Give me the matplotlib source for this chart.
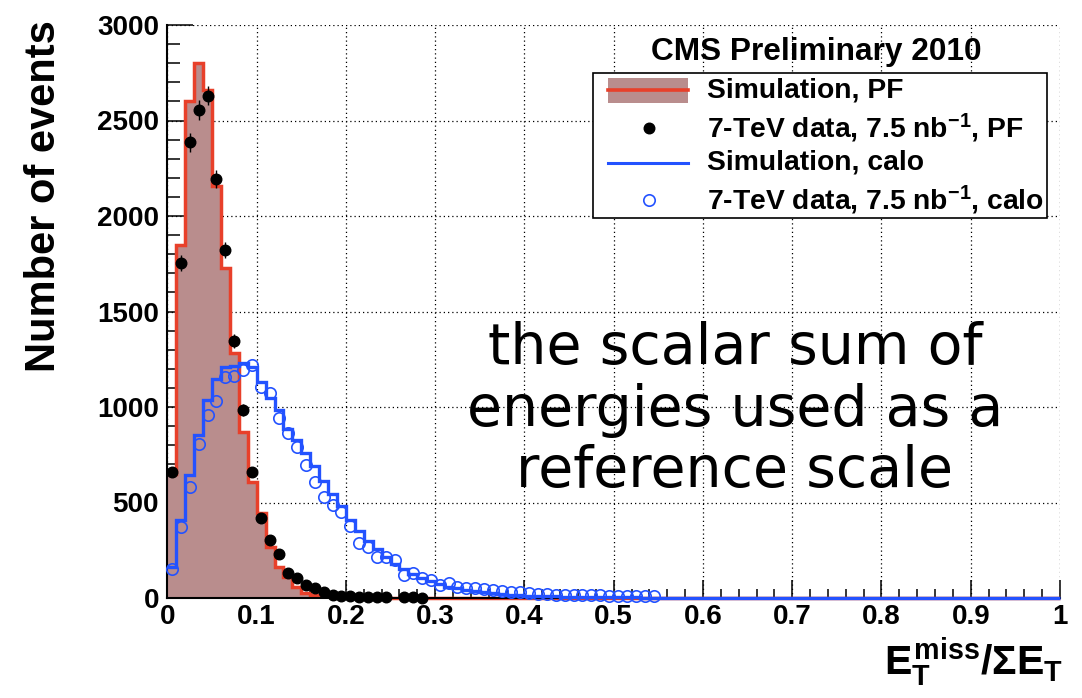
import numpy as np
import matplotlib
matplotlib.use("Agg")
import matplotlib.pyplot as plt
from matplotlib.patches import Rectangle
from matplotlib.lines import Line2D
from matplotlib.ticker import MultipleLocator

plt.rcParams['font.family'] = ['Liberation Sans', 'DejaVu Sans']
plt.rcParams['font.weight'] = 'bold'
plt.rcParams['mathtext.fontset'] = 'custom'
plt.rcParams['mathtext.rm'] = 'Liberation Sans:bold'
plt.rcParams['mathtext.it'] = 'Liberation Sans:bold'
plt.rcParams['mathtext.bf'] = 'Liberation Sans:bold'

# ---- binning: 100 bins of width 0.01 on [0, 1]
BIN_WIDTH = 0.01
N_BINS = 100
edges = np.arange(N_BINS + 1) * BIN_WIDTH
centers = edges[:-1] + BIN_WIDTH / 2

# ---- simulation, particle flow (bin contents from the first bin on)
sim_pf_counts = [650, 1848, 2602, 2803, 2660, 2159, 1726, 1281, 871, 609,
                 443, 269, 164, 112, 59, 26, 18, 12, 8, 6,
                 5, 4, 3, 3, 2, 2, 2, 1, 1, 1, 1, 1, 1]

# ---- 7 TeV data, particle flow (nan = empty bin)
data_pf_counts = [661, 1752, 2386, 2555, 2630, 2192, 1822, 1347, 984, 658,
                  420, 304, 229, 129, 103, 68, 51, 33, 16, 10,
                  8, 6, 6, 5, 5, np.nan, 3, 3, 2]

# ---- simulation, calorimeter
sim_calo_counts = [160, 408, 644, 853, 1037, 1147, 1211, 1215, 1229, 1210,
                   1133, 1046, 984, 883, 827, 760, 690, 615, 545, 480,
                   410, 350, 300, 255, 215, 180, 150, 125, 105, 88,
                   72, 60, 50, 42, 35, 29, 24, 20, 17, 14,
                   12, 10, 9, 8, 7, 6, 5, 5, 4, 4,
                   3, 3, 3, 2, 2, 2, 1, 1, 1, 1]

# ---- 7 TeV data, calorimeter
data_calo_counts = [152, 370, 583, 806, 958, 1033, 1159, 1162, 1194, 1220,
                    1106, 1072, 941, 862, 792, 696, 609, 530, 487, 448,
                    378, 286, 269, 216, 216, 199, 120, 129, 103, 94,
                    70, 77, 59, 50, 51, 48, 42, 38, 33, 29,
                    26, 22, 20, 18, 17, 16, 15, 14, 14, 13,
                    12, 12, 11, 11, 10]

x_ticks = [0, 0.1, 0.2, 0.3, 0.4, 0.5, 0.6, 0.7, 0.8, 0.9, 1]
x_tick_labels = ['0', '0.1', '0.2', '0.3', '0.4', '0.5', '0.6', '0.7', '0.8', '0.9', '1']
y_ticks = [0, 500, 1000, 1500, 2000, 2500, 3000]
y_tick_labels = ['0', '500', '1000', '1500', '2000', '2500', '3000']


def full(counts):
    out = np.zeros(N_BINS)
    out[:len(counts)] = counts
    return out


sim_pf = full(sim_pf_counts)
sim_calo = full(sim_calo_counts)
data_pf = np.array(data_pf_counts, dtype=float)
data_calo = np.array(data_calo_counts, dtype=float)

FILL = '#B98D8D'
RED = '#E8402A'
BLUE = '#2352FF'

W, H = 1082, 698
fig = plt.figure(figsize=(W / 100, H / 100), dpi=100)
ax = fig.add_axes([167.4 / W, 1 - 598 / H, 892.6 / W, 573 / H])


def fp(x, y):
    """pixel position (from top-left) -> figure fraction"""
    return x / W, 1 - y / H


# histograms
ax.stairs(sim_pf, edges, fill=True, color=FILL, zorder=2)
ax.stairs(sim_pf, edges, baseline=None, color=RED, linewidth=2.5, zorder=3,
          clip_on=False)
ax.stairs(sim_calo, edges, baseline=None, color=BLUE, linewidth=2.4, zorder=4,
          clip_on=False)

# data points
xc = centers[:len(data_calo)]
ax.plot(xc, data_calo, 'o', ms=8.2, mfc='none', mec=BLUE, mew=1.2, zorder=5,
        clip_on=False)
xp = centers[:len(data_pf)]
ax.errorbar(xp, data_pf, yerr=np.sqrt(np.nan_to_num(data_pf)), fmt='o',
            color='black', ms=7.6, elinewidth=1.0, capsize=0, zorder=6,
            clip_on=False)

ax.set_xlim(0, 1)
ax.set_ylim(0, 3000)
ax.set_xticks(x_ticks)
ax.set_xticklabels(x_tick_labels)
ax.set_yticks(y_ticks)
ax.set_yticklabels(y_tick_labels)
ax.xaxis.set_minor_locator(MultipleLocator(0.02))
ax.yaxis.set_minor_locator(MultipleLocator(100))

ax.grid(True, which='major', color='black', linestyle=(0, (1, 2.4)),
        linewidth=0.9, zorder=1)
ax.set_axisbelow(True)

for side in ('top', 'right'):
    ax.spines[side].set_visible(False)
for side in ('left', 'bottom'):
    ax.spines[side].set_linewidth(1.5)
    ax.spines[side].set_zorder(3.5)

ax.tick_params(axis='x', which='major', direction='in', length=13, width=1.1,
               labelsize=20, pad=4)
ax.tick_params(axis='x', which='minor', direction='in', length=6.5, width=1.1)
ax.tick_params(axis='y', which='major', direction='in', length=18.5, width=1.1,
               labelsize=20, pad=6)
ax.tick_params(axis='y', which='minor', direction='in', length=9.3, width=1.1)
for lab in ax.get_xticklabels() + ax.get_yticklabels():
    lab.set_fontweight('bold')

# axis titles
fig.text(*fp(44, 20), 'Number of events', rotation=90, ha='center', va='top',
         fontsize=30, fontweight='bold')
fig.text(*fp(1063, 662), r'$E_T^{miss}/ΣE_T$', ha='right', va='center',
         fontsize=29.5)

# legend box
lx0, ly0, lx1, ly1 = 593, 73, 1047, 218
bx, by = fp(lx0, ly1)
fig.add_artist(Rectangle((bx, by), (lx1 - lx0) / W, (ly1 - ly0) / H,
                         transform=fig.transFigure, facecolor='white',
                         edgecolor='black', linewidth=1.2, zorder=10))
fig.text(*fp(816, 52), 'CMS Preliminary 2010', ha='center', va='center',
         fontsize=22.8, fontweight='bold', zorder=11)

rows = [90, 128, 163, 200]
sx0, sx1, mx = 608, 688, 649
rx, ry = fp(sx0, 103)
fig.add_artist(Rectangle((rx, ry), (sx1 - sx0) / W, 25 / H,
                         transform=fig.transFigure, facecolor=FILL,
                         edgecolor='none', zorder=11))
fig.add_artist(Line2D([sx0 / W, sx1 / W], [fp(0, rows[0])[1]] * 2,
                      transform=fig.transFigure, color=RED, linewidth=2.6,
                      zorder=12))
fig.add_artist(Line2D([mx / W], [fp(0, rows[1])[1]], transform=fig.transFigure,
                      marker='o', ms=7.6, color='black', linestyle='none',
                      zorder=12))
fig.add_artist(Line2D([sx0 / W, sx1 / W], [fp(0, rows[2])[1]] * 2,
                      transform=fig.transFigure, color=BLUE, linewidth=2.2,
                      zorder=12))
fig.add_artist(Line2D([mx / W], [fp(0, rows[3])[1]], transform=fig.transFigure,
                      marker='o', ms=8.2, mfc='none', mec=BLUE, mew=1.2,
                      linestyle='none', zorder=12))

labels = ['Simulation, PF',
          r'7-TeV data, 7.5 nb$^{\mathbf{-1}}$, PF',
          'Simulation, calo',
          r'7-TeV data, 7.5 nb$^{\mathbf{-1}}$, calo']
for yrow, text in zip(rows, labels):
    fig.text(*fp(707, yrow), text, ha='left', va='center', fontsize=20.3,
             fontweight='bold', zorder=12)

# annotation
fig.text(*fp(735, 410), 'the scalar sum of\nenergies used as a\nreference scale',
         ha='center', va='center', fontsize=41, family='DejaVu Sans',
         fontweight='normal', linespacing=1.16, zorder=12)

fig.savefig('out.png', dpi=100)
